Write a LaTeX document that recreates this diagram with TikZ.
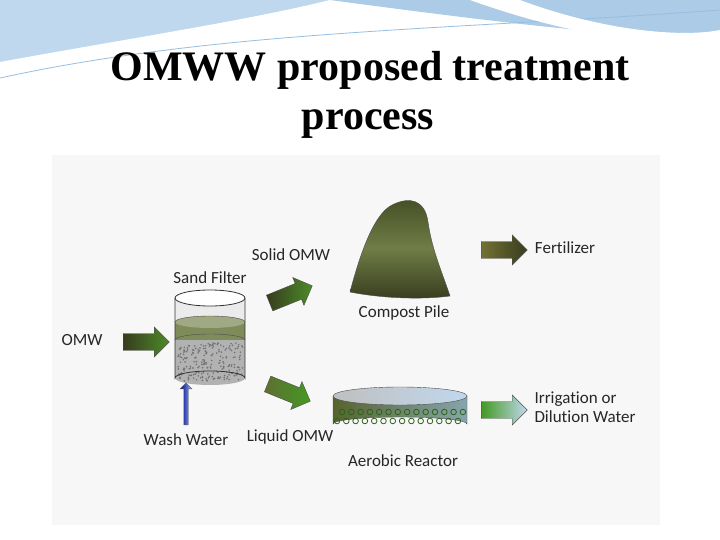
\documentclass[tikz,border=0pt]{standalone}
\usepackage{fontspec}
\setmainfont[Ligatures=NoCommon]{Carlito}
\newfontfamily\titlefont{Liberation Serif}
\usetikzlibrary{shapes.arrows,shapes.geometric}
\definecolor{olive}{RGB}{96,110,50}
\definecolor{darkolive}{RGB}{55,60,30}
\definecolor{sky}{RGB}{150,190,225}
\tikzset{
  lbl/.style={font=\fontsize{17}{19}\selectfont, text=black!85},
  flow/.style={single arrow, draw=black!70, thin, minimum height=46pt, minimum width=30pt,
    single arrow head extend=4pt, inner sep=5pt, left color=darkolive, right color=olive!80!green},
}
\begin{document}
\begin{tikzpicture}[x=1pt,y=-1pt]
\useasboundingbox (0,0) rectangle (720,540);
\fill[white] (0,0) rectangle (720,540);
% top swooshes
\fill[sky!60] (0,0) -- (0,70) .. controls (150,30) and (400,20) .. (720,0) -- cycle;
\fill[white] (0,80) .. controls (200,30) and (420,25) .. (720,8) -- (720,0) -- (330,0) .. controls (250,20) and (120,40) .. (0,62) -- cycle;
\fill[sky!80] (330,0) .. controls (480,20) and (600,35) .. (720,40) -- (720,0) -- cycle;
\draw[sky,thick] (0,78) .. controls (220,30) and (450,30) .. (720,10);
\fill[white] (520,0) .. controls (600,30) and (680,38) .. (720,30) -- (720,45) .. controls (620,45) and (540,25) .. (470,0) -- cycle;
% title
\node[font=\titlefont\bfseries\fontsize{42}{46}\selectfont] (title1) at (370,70) {OMWW proposed treatment};
\node[font=\titlefont\bfseries\fontsize{42}{46}\selectfont] (title2) at (368,124) {process};
% image panel
\fill[black!3] (52,155) rectangle (660,525);

% sand filter
\fill[black!30] (175,298) rectangle (245,378);
\fill[black!30] (210,378) ellipse (35 and 7);
\fill[olive!80] (175,322) rectangle (245,340);
\foreach \i in {1,...,220} {
  \pgfmathsetmacro{\gx}{177+rnd*66}
  \pgfmathsetmacro{\gy}{343+rnd*38}
  \fill[black!55] (\gx,\gy) circle (0.9);
}
\fill[black!8] (175,298) rectangle (245,322);
\fill[olive!60!white] (210,322) ellipse (35 and 6);
\draw[black!80,thick] (175,298) -- (175,378) arc (180:360:35 and 7) -- (245,298);
\draw[black!80,thick,fill=white] (210,298) ellipse (35 and 8);
\draw[black!70] (175,322) arc (180:360:35 and 6);
\draw[black!70] (175,340) arc (180:360:35 and 6);
\node[lbl] (sandlbl) at (210,278) {Sand Filter};

% inputs
\node[lbl] (omw) at (82,340) {OMW};
\node[flow] (omwarr) at (142,342) {};
\node[lbl] (washlbl) at (186,440) {Wash Water};
\node[single arrow, draw=black!60, rotate=90, minimum height=42pt, minimum width=12pt,
  single arrow head extend=2pt, inner sep=1pt, left color=blue!60!black, right color=sky] (washarr) at (186,405) {};

% branch arrows
\node[flow, rotate=22] (solidarr) at (287,296) {};
\node[lbl] (solidlbl) at (291,255) {Solid OMW};
\node[flow, rotate=-22, left color=olive, right color=olive!70!green] (liquidarr) at (285,391) {};
\node[lbl] (liquidlbl) at (290,437) {Liquid OMW};

% compost pile
\shade[top color=olive!70!black, bottom color=darkolive, middle color=olive!90!white, draw=black!70]
  (350,292) .. controls (358,262) and (372,215) .. (392,205) .. controls (410,196) and (425,200) .. (428,222)
  .. controls (432,250) and (442,272) .. (450,296) .. controls (420,300) and (380,298) .. cycle;
\node[lbl] (compostlbl) at (404,313) {Compost Pile};
\node[flow, left color=olive!80!brown, right color=darkolive] (fertarr) at (500,250) {};
\node[lbl] (fertlbl) at (565,248) {Fertilizer};

% aerobic reactor
\shade[left color=olive!90!black, right color=sky!70!olive, draw=black!70]
  (333,396) -- (333,424) arc (180:360:67 and 7) -- (467,396) -- cycle;
\shade[left color=black!25, right color=sky!60, draw=black!70] (400,396) ellipse (67 and 9);
\foreach \k in {0,...,13} {
  \draw[darkolive!80!green, thick] (342+\k*9.3,412) circle (2.8);
  \draw[darkolive!80!green, thick] (337+\k*9.3,421) circle (2.8);
}
\node[lbl] (reactorlbl) at (403,461) {Aerobic Reactor};
\node[flow, left color=olive!70!green, right color=sky!60!white] (irrarr) at (500,410) {};
\node[lbl, align=left, anchor=west] (irrlbl) at (531,407) {Irrigation or\\Dilution Water};
\end{tikzpicture}
\end{document}
